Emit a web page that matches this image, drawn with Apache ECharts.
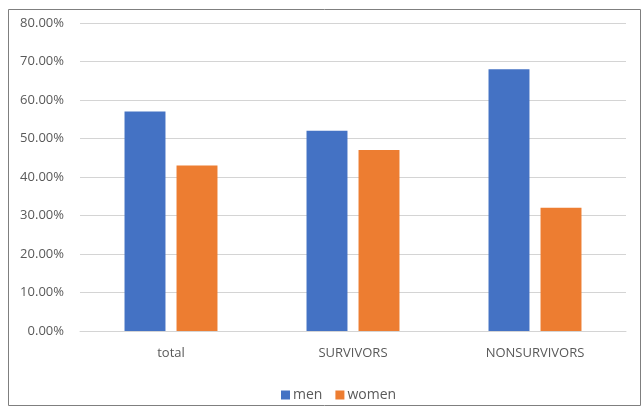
<!DOCTYPE html>
<html>
<head>
<meta charset="utf-8">
<script src="https://cdn.jsdelivr.net/npm/echarts@6/dist/echarts.min.js"></script>
<style>
  html, body { margin: 0; padding: 0; background: #ffffff; }
  #chart { width: 644px; height: 406px; }
</style>
</head>
<body>
<div id="chart"></div>
<script>
// Share of men and women in each patient group (percent)
const categories = ['total', 'SURVIVORS', 'NONSURVIVORS'];
const menValues = [57, 52, 68];
const womenValues = [43, 47, 32];
const seriesNames = ['men', 'women'];

const labelFont = '"Open Sans", "Noto Sans", sans-serif';
const textColor = '#595959';

const chart = echarts.init(document.getElementById('chart'));
chart.setOption({
  animation: false,
  backgroundColor: '#ffffff',
  graphic: [{
    type: 'rect',
    left: 6, top: 7,
    shape: { width: 632, height: 396 },
    style: { fill: 'none', stroke: '#7f7f7f', lineWidth: 1 },
    silent: true
  }],
  grid: { left: 80, right: 18, top: 23, bottom: 75 },
  legend: {
    data: seriesNames,
    top: 383,
    left: 276,
    itemWidth: 9,
    itemHeight: 9,
    itemGap: 13,
    icon: 'rect',
    textStyle: { color: textColor, fontSize: 14, fontFamily: labelFont, padding: [0, 0, 0, -2] }
  },
  xAxis: {
    type: 'category',
    data: categories,
    axisLine: { show: true, lineStyle: { color: '#d4d4d4' } },
    axisTick: { show: false },
    axisLabel: { color: textColor, fontSize: 13, fontFamily: labelFont, margin: 16 }
  },
  yAxis: {
    type: 'value',
    min: 0, max: 80, interval: 10,
    axisLine: { show: false },
    axisTick: { show: false },
    splitLine: { lineStyle: { color: '#d4d4d4', width: 1 } },
    axisLabel: {
      color: textColor, fontSize: 13, fontFamily: labelFont, margin: 16,
      formatter: v => v.toFixed(2) + '%'
    }
  },
  series: [
    {
      name: seriesNames[0], type: 'bar', data: menValues,
      barWidth: '22.5%', barGap: '27%',
      itemStyle: { color: '#4472c4' }
    },
    {
      name: seriesNames[1], type: 'bar', data: womenValues,
      barWidth: '22.5%', barGap: '27%',
      itemStyle: { color: '#ed7d31' }
    }
  ]
});
</script>
</body>
</html>
